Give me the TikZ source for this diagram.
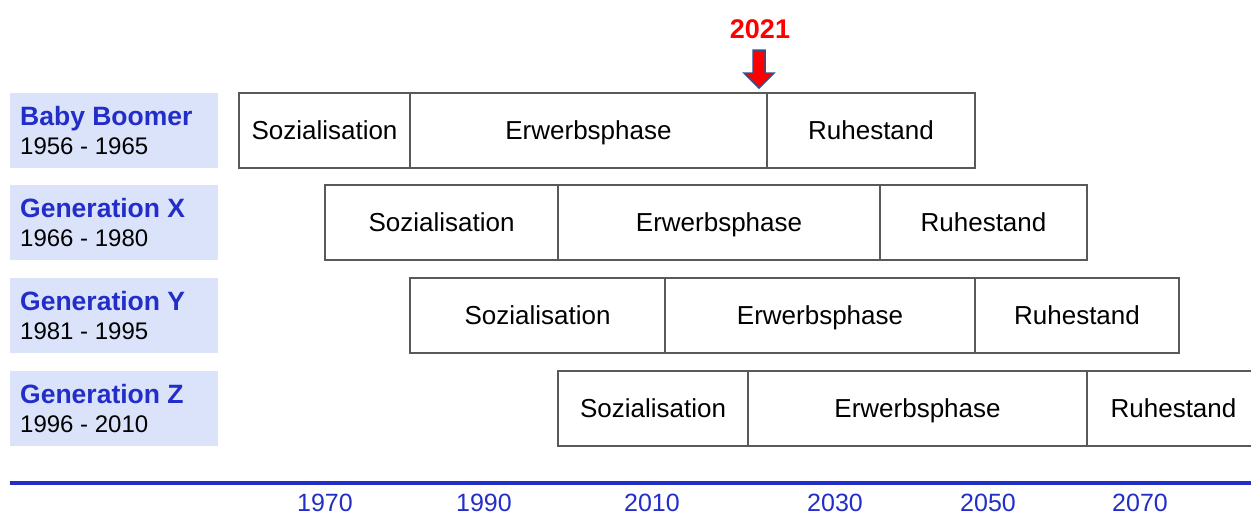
\documentclass[tikz,border=0pt]{standalone}
\usepackage{fontspec}
\setmainfont{Liberation Sans}
\usetikzlibrary{positioning}

\definecolor{genblue}{RGB}{35,45,200}
\definecolor{genback}{RGB}{218,227,250}
\definecolor{boxgray}{RGB}{89,89,89}
\definecolor{arrowedge}{RGB}{47,82,143}

\tikzset{
  phase/.style={draw=boxgray, line width=2pt, minimum height=75pt, inner sep=0pt, outer sep=0pt,
    text height=20pt, text depth=3pt, font=\fontsize{26}{30}\selectfont},
  genbox/.style={fill=genback, minimum width=208pt, minimum height=75pt, inner sep=0pt, anchor=north west},
  gen/.style={anchor=base west, inner sep=0pt, text=genblue, font=\bfseries\fontsize{26.5}{30}\selectfont},
  years/.style={anchor=base west, inner sep=0pt, font=\fontsize{24}{28}\selectfont},
  tick/.style={anchor=base, inner sep=0pt, text=genblue, font=\fontsize{25}{30}\selectfont},
}

\begin{document}
\begin{tikzpicture}[x=1pt, y=-1pt]
\useasboundingbox (0,0) rectangle (1251,514);

% generations and their phases
\foreach \row/\top/\name/\yrs/\a/\b/\c/\d in {
    1/93/Baby Boomer/1956 - 1965/239/410/767/975,
    2/185/Generation X/1966 - 1980/325/558/880/1087,
    3/278/Generation Y/1981 - 1995/410/665/975/1179,
    4/371/Generation Z/1996 - 2010/558/748/1087/1260} {
  \pgfmathsetmacro\wa{\b-\a}
  \pgfmathsetmacro\wb{\c-\b}
  \pgfmathsetmacro\wc{\d-\c}
  \node[genbox] (g\row) at (10,\top) {};
  \node[gen] (t\row) at (20,\top+32) {\name};
  \node[years] (y\row) at (20,\top+61) {\yrs};
  \node[phase, minimum width=\wa pt, anchor=north west] (s\row) at (\a,\top) {Sozialisation};
  \node[phase, minimum width=\wb pt, right=0pt of s\row] (e\row) {Erwerbsphase};
  \node[phase, minimum width=\wc pt, right=0pt of e\row] (r\row) {Ruhestand};
}

% time axis
\coordinate (axl) at (10,483);
\coordinate (axr) at (1251,483);
\draw[genblue, line width=4pt] (axl) -- (axr);
\foreach \yr/\x in {1970/325, 1990/484, 2010/652, 2030/835, 2050/988, 2070/1140}
  \node[tick] (yr\yr) at (\x,511) {\yr};

% today marker
\node[anchor=base, inner sep=0pt, text=red, font=\bfseries\fontsize{27}{30}\selectfont] (now) at (760,38) {2021};
\coordinate (tip) at (759,88);
\draw[arrowedge, line width=1.5pt, fill=red, line join=miter]
  (tip) -- ++(15,-15) -- ++(-9,0) -- ++(0,-23) -- ++(-12,0) -- ++(0,23) -- ++(-9,0) -- cycle;

\end{tikzpicture}
\end{document}
